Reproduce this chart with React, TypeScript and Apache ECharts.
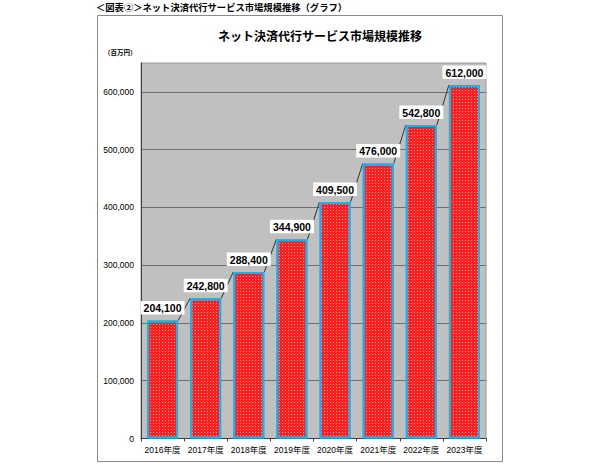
import React, { useEffect, useRef } from "react";
import * as echarts from "echarts";

const categories = ["2016年度", "2017年度", "2018年度", "2019年度", "2020年度", "2021年度", "2022年度", "2023年度"];
const values = [204100, 242800, 288400, 344900, 409500, 476000, 542800, 612000];
const yMin = 0;
const yMax = 650000;
const yInterval = 100000;
const headerText = "＜図表②＞ネット決済代行サービス市場規模推移（グラフ）";
const chartTitle = "ネット決済代行サービス市場規模推移";
const unitText = "（百万円）";

const FONT = "'Liberation Sans', 'Noto Sans CJK JP', sans-serif";
const BAR_RATIO = 0.72;

export default function App() {
  const ref = useRef<HTMLDivElement>(null);
  useEffect(() => {
    document.body.style.margin = "0";
    const chart = echarts.init(ref.current!, null, { renderer: "svg" });
    const linkData = values.slice(0, -1).map((v, i) => [i, v]);
    chart.setOption({
      animation: false,
      textStyle: { fontFamily: FONT },
      graphic: [
        {
          type: "rect",
          shape: { x: 97.5, y: 15.5, width: 405, height: 446 },
          style: { fill: "none", stroke: "#8a8a8a", lineWidth: 1 },
          z: 0,
        },
        {
          type: "text",
          x: 96,
          y: 2.5,
          style: { text: headerText, fill: "#000", font: "bold 9.3px 'Noto Sans CJK JP'" },
        },
        {
          type: "text",
          x: 218,
          y: 29,
          style: { text: chartTitle, fill: "#000", font: "bold 12px 'Noto Sans CJK JP'" },
        },
        {
          type: "text",
          x: 104,
          y: 49,
          style: { text: unitText, fill: "#000", font: "bold 6.5px 'Noto Sans CJK JP'" },
        },
      ],
      grid: {
        left: 141,
        right: 114,
        top: 63,
        bottom: 30.5,
        show: true,
        backgroundColor: "#c0c0c0",
        borderColor: "#9a9a9a",
        borderWidth: 1,
      },
      xAxis: {
        type: "category",
        data: categories,
        axisLine: { show: true, lineStyle: { color: "#404040", width: 1 } },
        axisTick: { show: true, length: 3, lineStyle: { color: "#404040" } },
        axisLabel: { interval: 0, fontSize: 8.5, color: "#000", margin: 7, fontFamily: FONT },
      },
      yAxis: {
        type: "value",
        min: yMin,
        max: yMax,
        interval: yInterval,
        axisLine: { show: true, lineStyle: { color: "#404040", width: 1 } },
        axisTick: { show: false },
        splitLine: { show: true, showMaxLine: false, lineStyle: { color: "#6e6e6e", width: 1 } },
        axisLabel: {
          fontSize: 8.5,
          color: "#000",
          margin: 7,
          fontFamily: FONT,
          formatter: (v: number) => (v > 600000 ? "" : v.toLocaleString("en-US")),
        },
      },
      series: [
        {
          type: "custom",
          z: 2,
          silent: true,
          data: linkData,
          renderItem: (params: any, api: any) => {
            const i = api.value(0);
            const p1 = api.coord([i, api.value(1)]);
            const p2 = api.coord([i + 1, values[i + 1]]);
            const half = (api.size([1, 0])[0] * BAR_RATIO) / 2;
            return {
              type: "line",
              shape: { x1: p1[0] + half, y1: p1[1], x2: p2[0] - half, y2: p2[1] },
              style: { stroke: "#333", lineWidth: 1 },
            };
          },
        },
        {
          type: "bar",
          z: 3,
          data: values,
          barCategoryGap: "28%",
          itemStyle: {
            color: "#ff2020",
            borderColor: "#1cb0ea",
            borderWidth: 2,
            decal: {
              symbol: "rect",
              symbolSize: 1,
              dashArrayX: [1, 2],
              dashArrayY: [1, 2],
              color: "rgba(255,200,200,0.7)",
            },
          },
          label: {
            show: true,
            position: "top",
            distance: 6,
            formatter: (p: any) => Number(p.value).toLocaleString("en-US"),
            fontSize: 10.5,
            fontWeight: "bold",
            color: "#000",
            fontFamily: FONT,
            backgroundColor: "#fff",
            padding: [2, 3, 1, 3],
          },
        },
      ],
    });
    return () => chart.dispose();
  }, []);
  return <div ref={ref} style={{ width: 600, height: 469 }} />;
}
